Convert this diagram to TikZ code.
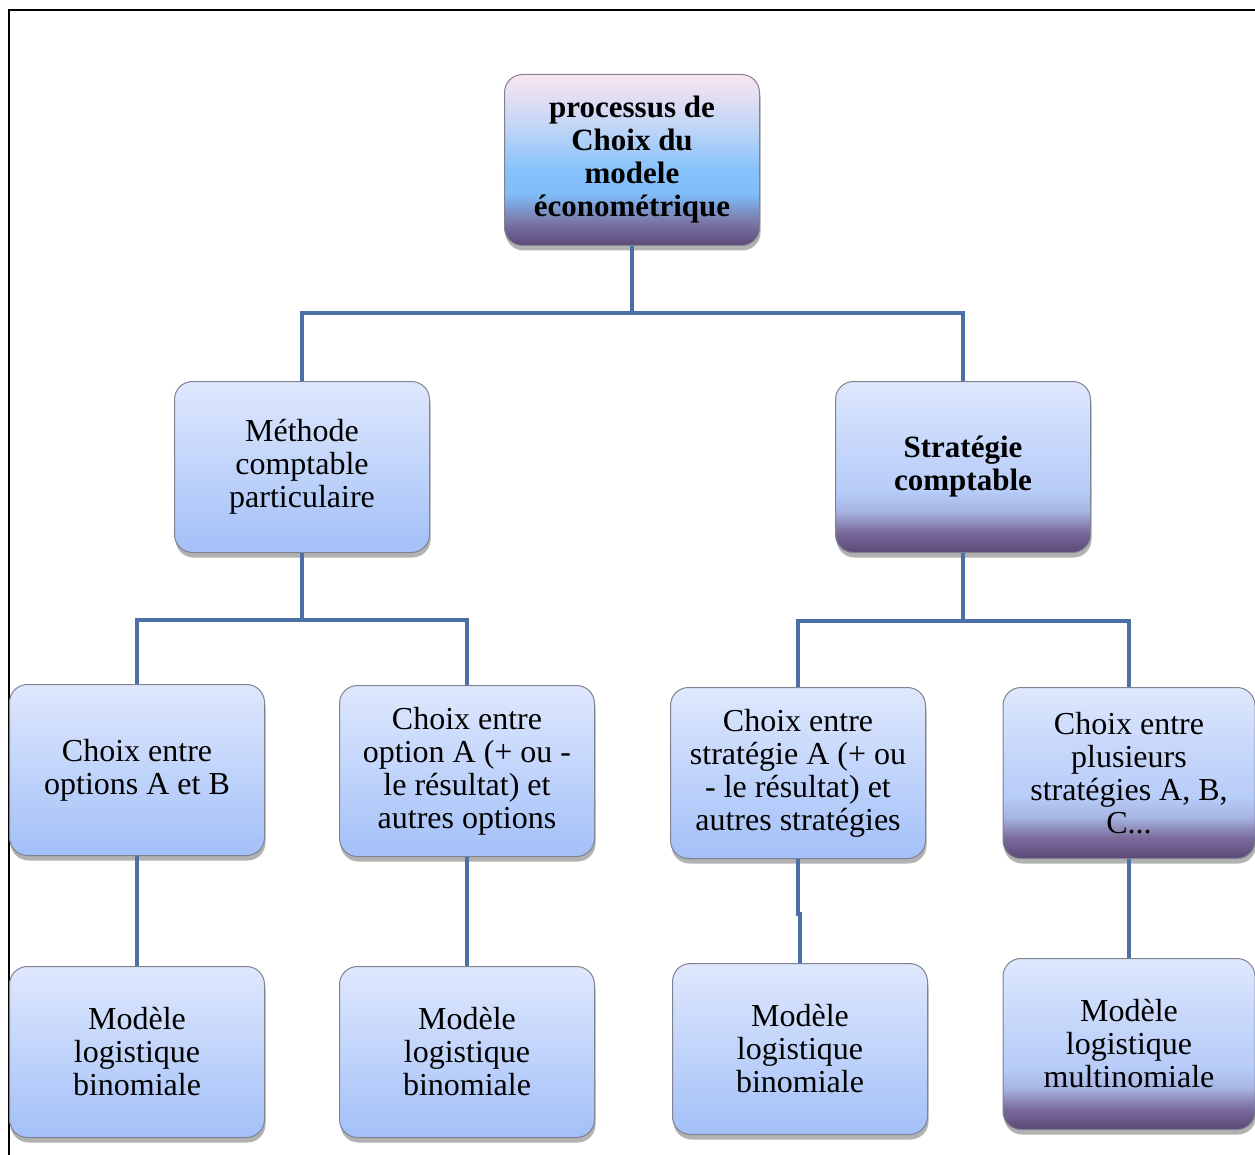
\documentclass[tikz,border=0pt]{standalone}
\usepackage{fontspec}
\setmainfont{Liberation Serif}
\usetikzlibrary{shadows}
\definecolor{linkblue}{HTML}{4A70A6}
\definecolor{boxedge}{HTML}{7F8290}
\definecolor{lbtop}{HTML}{DFE8FD}
\definecolor{lbbot}{HTML}{A3C0F8}
\definecolor{pA}{HTML}{5C4876}
\definecolor{pB}{HTML}{7A6B9C}
\definecolor{pC}{HTML}{A6B4E2}
\definecolor{pD}{HTML}{B7CCF8}
\definecolor{pE}{HTML}{C8D8FB}
\definecolor{pF}{HTML}{DFE9FD}
\definecolor{tB}{HTML}{7A77A8}
\definecolor{tC}{HTML}{80BDF8}
\definecolor{tD}{HTML}{86C2FC}
\definecolor{tE}{HTML}{C2D6F6}
\definecolor{tF}{HTML}{FAE4F1}
\pgfdeclareverticalshading{purpleshade}{100bp}{color(0bp)=(pA); color(25bp)=(pA); color(31bp)=(pB); color(37bp)=(pC); color(43bp)=(pD); color(58bp)=(pE); color(75bp)=(pF); color(100bp)=(pF)}
\pgfdeclareverticalshading{topshade}{100bp}{color(0bp)=(pA); color(25bp)=(pA); color(32bp)=(tB); color(40bp)=(tC); color(47bp)=(tD); color(60bp)=(tE); color(75bp)=(tF); color(100bp)=(tF)}
\tikzset{
  box/.style={draw=boxedge, line width=1pt, rounded corners=18pt, minimum width=255pt, minimum height=171pt, inner sep=0pt, align=center, font=\fontsize{32}{33}\selectfont, drop shadow={shadow xshift=1pt, shadow yshift=-5pt, opacity=0.3, fill=black}},
  lightbox/.style={box, top color=lbtop, bottom color=lbbot},
  purplebox/.style={box, shading=purpleshade},
  topbox/.style={box, shading=topshade, font=\fontsize{31}{33}\selectfont\bfseries},
  link/.style={draw=linkblue, line width=4pt}
}
\begin{document}
\begin{tikzpicture}[x=1pt,y=-1pt]
\useasboundingbox (0,0) rectangle (1255,1155);
\fill[white] (0,0) rectangle (1255,1155);
% frame
\coordinate (fbl) at (9,1155);
\coordinate (ftl) at (9,10);
\coordinate (ftr) at (1255,10);
\draw[black, line width=2pt] (fbl) -- (ftl) -- (ftr);
% connectors (drawn first, boxes cover their ends)
\coordinate (topc) at (632,160);
\coordinate (methc) at (302,467);
\coordinate (stratc) at (963,467);
% nodes
\node[topbox] (top) at (632,160) {processus de\\Choix du\\modele\\économétrique};
\node[lightbox] (meth) at (302,467) {Méthode\\comptable\\particulaire};
\node[purplebox, font=\fontsize{31}{33}\selectfont\bfseries] (strat) at (963,467) {Stratégie\\comptable};
\node[lightbox] (c1) at (137,770) {Choix entre\\options A et B};
\node[lightbox] (c2) at (467,771) {Choix entre\\option A (+ ou -\\le résultat) et\\autres options};
\node[lightbox] (c3) at (798,773) {Choix entre\\stratégie A (+ ou\\- le résultat) et\\autres stratégies};
\node[purplebox, minimum width=252pt] (c4) at (1129,773) {Choix entre\\plusieurs\\stratégies A, B,\\C...};
\node[lightbox] (m1) at (137,1052) {Modèle\\logistique\\binomiale};
\node[lightbox] (m2) at (467,1052) {Modèle\\logistique\\binomiale};
\node[lightbox] (m3) at (800,1049) {Modèle\\logistique\\binomiale};
\node[purplebox, minimum width=252pt] (m4) at (1129,1044) {Modèle\\logistique\\multinomiale};
% connectors
\draw[link] (top.south) -- ++(0,67) -| (meth.north);
\draw[link] (top.south) -- ++(0,67) -| (strat.north);
\draw[link] (meth.south) -- ++(0,67) -| (c1.north);
\draw[link] (meth.south) -- ++(0,67) -| (c2.north);
\draw[link] (strat.south) -- ++(0,68) -| (c3.north);
\draw[link] (strat.south) -- ++(0,68) -| (c4.north);
\draw[link] (c1.south) -- (m1.north);
\draw[link] (c2.south) -- (m2.north);
\draw[link] (c3.south) -- ++(0,55) -| (m3.north);
\draw[link] (c4.south) -- (m4.north);
\end{tikzpicture}
\end{document}
